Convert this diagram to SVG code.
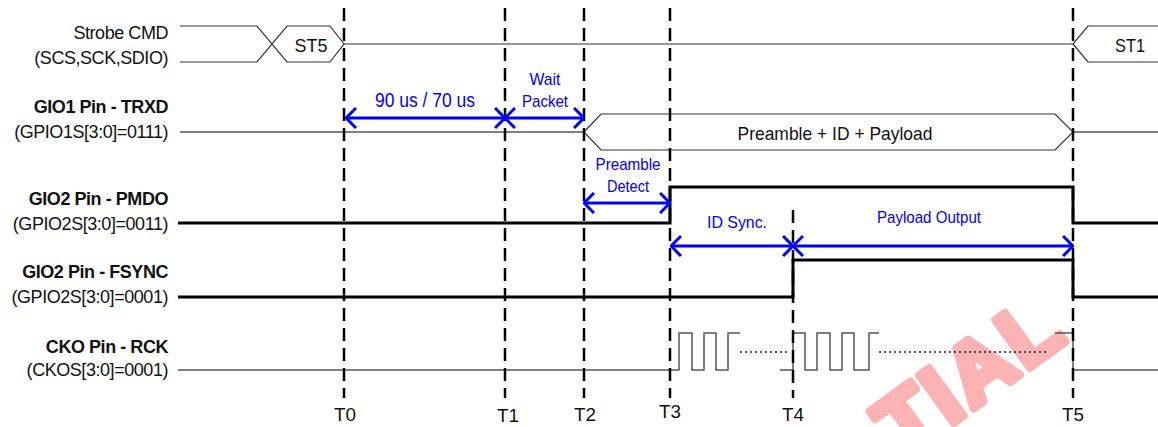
<svg xmlns="http://www.w3.org/2000/svg" width="1158" height="427" viewBox="0 0 1158 427">
<style>
.lbl{font-family:"Liberation Sans",Arial,sans-serif;font-size:18px;fill:#111;text-anchor:end;letter-spacing:-0.45px}
.b{font-weight:bold}
.tl{font-family:"Liberation Sans",Arial,sans-serif;font-size:19px;fill:#111;text-anchor:middle}
.bl{font-family:"Liberation Sans",Arial,sans-serif;font-size:17px;fill:#0000ff;text-anchor:middle}
.thin{fill:none;stroke:#333;stroke-width:1.2}
.gray{fill:none;stroke:#555;stroke-width:1.5}
.thick{fill:none;stroke:#000;stroke-width:3}
.dash{fill:none;stroke:#000;stroke-width:2.5;stroke-dasharray:13 7}
.dot{fill:none;stroke:#222;stroke-width:1.5;stroke-dasharray:2 3}
.arr{fill:none;stroke:#0000ff;stroke-width:3;marker-start:url(#ah);marker-end:url(#ah)}
.wm{font-family:"Liberation Sans",Arial,sans-serif;font-weight:bold;font-size:86px;letter-spacing:4px;fill:#fbb3b3;stroke:#fbb3b3;stroke-width:8;stroke-linejoin:round}
</style>
<defs>
<marker id="ah" viewBox="0 0 12 22" refX="11" refY="11" markerWidth="12" markerHeight="22" markerUnits="userSpaceOnUse" orient="auto-start-reverse">
<path d="M1,1 L11,11 L1,21" fill="none" stroke="#0000ff" stroke-width="3"/>
</marker>
<clipPath id="wmclip" clipPathUnits="userSpaceOnUse">
<rect x="858" y="200" width="300" height="200"/>
</clipPath>
</defs>
<rect width="1158" height="427" fill="#fff"/>
<g id="watermark">
<text class="wm" x="1071" y="338" text-anchor="end" transform="rotate(-36 1071 338)" clip-path="url(#wmclip)">CONFIDENTIAL</text>
</g>
<g id="labels">
<text class="lbl" x="168" y="39">Strobe CMD</text>
<text class="lbl" x="168" y="64">(SCS,SCK,SDIO)</text>
<text class="lbl b" x="168" y="113">GIO1 Pin - TRXD</text>
<text class="lbl" x="168" y="138">(GPIO1S[3:0]=0111)</text>
<text class="lbl b" x="168" y="205">GIO2 Pin - PMDO</text>
<text class="lbl" x="168" y="230">(GPIO2S[3:0]=0011)</text>
<text class="lbl b" x="168" y="278">GIO2 Pin - FSYNC</text>
<text class="lbl" x="168" y="303">(GPIO2S[3:0]=0001)</text>
<text class="lbl b" x="168" y="353">CKO Pin - RCK</text>
<text class="lbl" x="168" y="376">(CKOS[3:0]=0001)</text>
</g>
<g id="signal-strobe">
<path class="thin" d="M180,26 H257 L287,62 H330 L344,44 L330,26 H287 L257,62 H180"/>
<path class="thin" d="M344,44 H1073 L1088,26 H1158 M1073,44 L1088,62 H1158"/>
<text class="tl" x="311" y="52" textLength="33" lengthAdjust="spacingAndGlyphs">ST5</text>
<text class="tl" x="1130" y="52" textLength="30" lengthAdjust="spacingAndGlyphs">ST1</text>
</g>
<g id="signal-trxd">
<path class="gray" d="M180,132 H584 M1073,132 H1158"/>
<path class="thin" d="M584,132 L601,114 H1055 L1073,132 L1055,150 H601 Z"/>
<text class="tl" x="835" y="140" textLength="195" lengthAdjust="spacingAndGlyphs">Preamble + ID + Payload</text>
</g>
<g id="signal-pmdo">
<path class="thick" d="M178,223 H670 V187 H1073 V223 H1158"/>
</g>
<g id="signal-fsync">
<path class="thick" d="M178,297 H793 V260 H1073 V297 H1158"/>
</g>
<g id="signal-rck">
<path class="gray" d="M178,370 H679 V333 H692 V370 H704 V333 H716 V370 H728 V333 H740"/>
<path class="gray" d="M780,370 H793 V333 H805 V370 H817 V333 H830 V370 H842 V333 H854 V370 H869 V333 H879"/>
<path class="gray" d="M1055,333 H1073 V370 H1158"/>
<path class="dot" d="M740,352 H790 M879,352 H1047"/>
</g>
<g id="time-markers">
<path class="dash" d="M344,8 V398 M505,8 V398 M584,8 V398 M670,8 V398 M793,210 V398 M1073,8 V398"/>
<text class="tl" x="345" y="421" textLength="22" lengthAdjust="spacingAndGlyphs">T0</text>
<text class="tl" x="508" y="422" textLength="22" lengthAdjust="spacingAndGlyphs">T1</text>
<text class="tl" x="585" y="421" textLength="22" lengthAdjust="spacingAndGlyphs">T2</text>
<text class="tl" x="670" y="418" textLength="22" lengthAdjust="spacingAndGlyphs">T3</text>
<text class="tl" x="793" y="421" textLength="22" lengthAdjust="spacingAndGlyphs">T4</text>
<text class="tl" x="1073" y="421" textLength="22" lengthAdjust="spacingAndGlyphs">T5</text>
</g>
<g id="connectors">
<path class="arr" d="M346,118 H505"/>
<path class="arr" d="M505,118 H584"/>
<path class="arr" d="M584,203 H670"/>
<path class="arr" d="M671,246 H793"/>
<path class="arr" d="M793,246 H1073"/>
</g>
<g id="annotations">
<text class="bl" x="425" y="107" style="font-size:20px" textLength="100" lengthAdjust="spacingAndGlyphs">90 us / 70 us</text>
<text class="bl" x="545" y="85" textLength="31" lengthAdjust="spacingAndGlyphs">Wait</text>
<text class="bl" x="545" y="107" textLength="46" lengthAdjust="spacingAndGlyphs">Packet</text>
<text class="bl" x="628" y="170" textLength="65" lengthAdjust="spacingAndGlyphs">Preamble</text>
<text class="bl" x="628" y="192" textLength="42" lengthAdjust="spacingAndGlyphs">Detect</text>
<text class="bl" x="737" y="228" textLength="60" lengthAdjust="spacingAndGlyphs">ID Sync.</text>
<text class="bl" x="929" y="223" textLength="104" lengthAdjust="spacingAndGlyphs">Payload Output</text>
</g>
</svg>
